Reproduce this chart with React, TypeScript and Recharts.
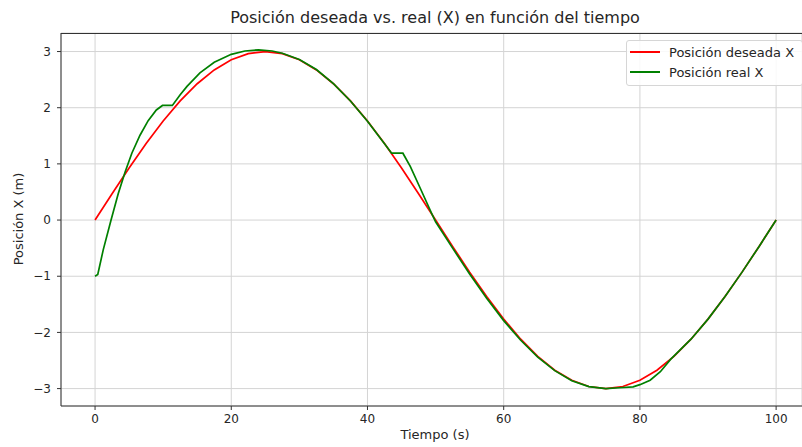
import React from "react"
import {
  LineChart,
  Line,
  XAxis,
  YAxis,
  CartesianGrid,
} from "recharts"

// tiempo (s) y posición deseada X (m)
const desiredTime = [
  0, 2.5, 5, 7.5, 10, 12.5, 15, 17.5, 20, 22.5, 25, 27.5, 30, 32.5, 35, 37.5, 40,
  42.5, 45, 47.5, 50, 52.5, 55, 57.5, 60, 62.5, 65, 67.5, 70, 72.5, 75, 77.5, 80,
  82.5, 85, 87.5, 90, 92.5, 95, 97.5, 100,
]
const desiredX = [
  0, 0.469, 0.927, 1.362, 1.763, 2.121, 2.427, 2.673, 2.853, 2.963, 3.0, 2.963,
  2.853, 2.673, 2.427, 2.121, 1.763, 1.362, 0.927, 0.469, 0, -0.469, -0.927,
  -1.362, -1.763, -2.121, -2.427, -2.673, -2.853, -2.963, -3.0, -2.963, -2.853,
  -2.673, -2.427, -2.121, -1.763, -1.362, -0.927, -0.469, 0,
]

// tiempo (s) y posición real X (m)
const realTime = [
  0, 0.4, 1.2, 2.35, 3.4, 4.4, 5.4, 6.6, 7.8, 9.0, 9.9, 11.35, 12.5, 13.5, 15.4,
  17.5, 20, 22, 24, 26, 27.5, 30, 32.5, 35, 37.5, 40, 42.5, 43.55, 45.2, 46.3,
  47.7, 49.3, 50, 52.5, 55, 57.5, 60, 62.5, 65, 67.5, 70, 72.5, 75, 77, 79, 80,
  81.5, 83, 84.5, 87.5, 90, 92.5, 95, 97.5, 100,
]
const realX = [
  -1.0, -0.97, -0.53, 0.0, 0.47, 0.85, 1.19, 1.51, 1.77, 1.96, 2.04, 2.04, 2.23,
  2.38, 2.62, 2.81, 2.95, 3.01, 3.03, 3.01, 2.97, 2.86, 2.68, 2.43, 2.12, 1.76,
  1.36, 1.19, 1.19, 0.95, 0.58, 0.15, -0.03, -0.5, -0.96, -1.39, -1.79, -2.14,
  -2.44, -2.68, -2.86, -2.965, -3.0, -2.985, -2.97, -2.93, -2.85, -2.7, -2.48,
  -2.121, -1.763, -1.362, -0.927, -0.469, 0,
]

const xTicks = [0, 20, 40, 60, 80, 100]
const yTicks = [-3, -2, -1, 0, 1, 2, 3]

const desiredData = desiredTime.map((t, i) => ({ t, x: desiredX[i] }))
const realData = realTime.map((t, i) => ({ t, x: realX[i] }))

const font = "'DejaVu Sans', sans-serif"
const textColor = "#262626"
const minus = (v: number) => String(v).replace("-", "\u2212")

const textStyle: React.CSSProperties = {
  position: "absolute",
  fontFamily: font,
  fontSize: 13,
  color: textColor,
  whiteSpace: "nowrap",
}

function LegendBox() {
  const row = (color: string, label: string) => (
    <div style={{ display: "flex", alignItems: "center", height: 20 }}>
      <div style={{ width: 30, height: 2, background: color, marginRight: 9 }} />
      <span>{label}</span>
    </div>
  )
  return (
    <div
      style={{
        ...textStyle,
        top: 40,
        left: 626,
        border: "1px solid #d6d6d6",
        borderRadius: 3,
        background: "rgba(255,255,255,0.85)",
        padding: "1px 8px 3px 3px",
      }}
    >
      {row("red", "Posición deseada X")}
      {row("green", "Posición real X")}
    </div>
  )
}

export default function App() {
  return (
    <div style={{ position: "fixed", top: 0, left: 0, width: 802, height: 447, overflow: "hidden", background: "#fff" }}>
      <LineChart
        width={802}
        height={447}
        margin={{ top: 33, right: 0, bottom: 21, left: 21 }}
      >
        <CartesianGrid stroke="#d4d4d4" strokeWidth={1} />
        <XAxis
          dataKey="t"
          type="number"
          domain={[-5, 103.8]}
          ticks={xTicks}
          allowDuplicatedCategory={false}
          tickSize={4}
          tickMargin={4}
          height={20}
          stroke="#333"
          tick={{ fontFamily: font, fontSize: 12, fill: textColor }}
        />
        <YAxis
          dataKey="x"
          type="number"
          domain={[-3.31, 3.33]}
          ticks={yTicks}
          tickFormatter={minus}
          tickSize={4}
          tickMargin={6}
          width={40}
          stroke="#333"
          tick={{ fontFamily: font, fontSize: 12, fill: textColor }}
        />
        <Line
          data={desiredData}
          dataKey="x"
          type="linear"
          stroke="red"
          strokeWidth={1.7}
          dot={false}
          isAnimationActive={false}
        />
        <Line
          data={realData}
          dataKey="x"
          type="linear"
          stroke="green"
          strokeWidth={1.7}
          dot={false}
          isAnimationActive={false}
        />
      </LineChart>
      {/* borde superior del área de trazado */}
      <div
        style={{
          position: "absolute",
          left: 61,
          top: 33,
          width: 741,
          height: 0,
          borderTop: "1px solid #333",
          pointerEvents: "none",
        }}
      />
      <div style={{ ...textStyle, top: 8, left: 0, width: 870, textAlign: "center", fontSize: 16 }}>
        Posición deseada vs. real (X) en función del tiempo
      </div>
      <div style={{ ...textStyle, top: 427, left: 0, width: 870, textAlign: "center" }}>Tiempo (s)</div>
      <div
        style={{
          ...textStyle,
          top: 219,
          left: 18,
          transform: "translate(-50%, -50%) rotate(-90deg)",
        }}
      >
        Posición X (m)
      </div>
      <LegendBox />
    </div>
  )
}
